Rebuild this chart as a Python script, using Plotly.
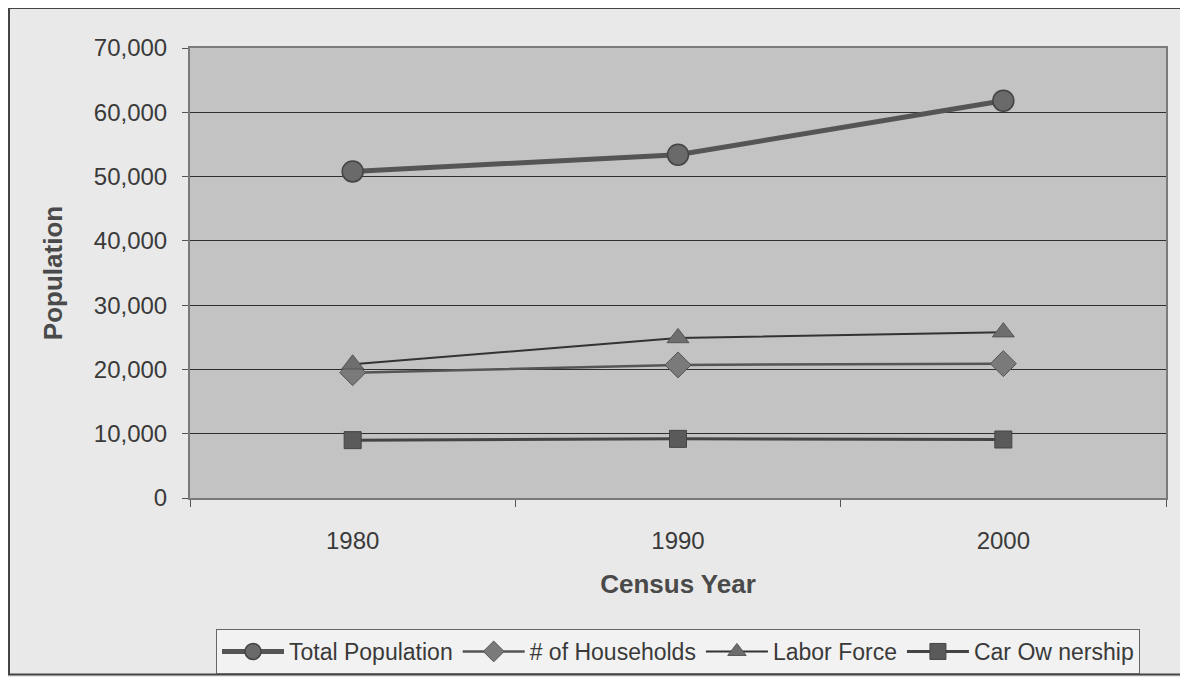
import plotly.graph_objects as go

years = ["1980", "1990", "2000"]
total_population = [50800, 53400, 61800]
households = [19500, 20700, 20900]
labor_force = [20800, 24900, 25800]
car_ownership = [9000, 9200, 9100]
y_ticks = [0, 10000, 20000, 30000, 40000, 50000, 60000, 70000]

FONT = "Arial, Liberation Sans, sans-serif"
TXT = "#3a3a3a"

L, R, T, B = 182, 30, 40, 186
PW = 1188 - L - R
PH = 677 - T - B

fig = go.Figure()
fig.add_trace(go.Scatter(
    x=years, y=total_population, name="Total Population", mode="lines+markers",
    line=dict(color="#555555", width=5),
    marker=dict(symbol="circle", size=21, color="#6a6a6a", line=dict(color="#444444", width=1.5))))
fig.add_trace(go.Scatter(
    x=years, y=households, name="# of Households", mode="lines+markers",
    line=dict(color="#555555", width=2.5),
    marker=dict(symbol="diamond", size=20, color="#7a7a7a", line=dict(color="#555555", width=1))))
fig.add_trace(go.Scatter(
    x=years, y=labor_force, name="Labor Force", mode="lines+markers",
    line=dict(color="#333333", width=2),
    marker=dict(symbol="triangle-up", size=19, color="#6e6e6e", line=dict(color="#555555", width=1))))
fig.add_trace(go.Scatter(
    x=years, y=car_ownership, name="Car Ow nership", mode="lines+markers",
    line=dict(color="#444444", width=3),
    marker=dict(symbol="square", size=17, color="#5a5a5a", line=dict(color="#444444", width=1))))

fig.update_layout(
    width=1188, height=677,
    margin=dict(l=L, r=R, t=T, b=B),
    paper_bgcolor="#e9e9e9",
    plot_bgcolor="#c3c3c3",
    font=dict(family=FONT, size=24, color=TXT),
    showlegend=True,
    legend=dict(
        orientation="h", x=0.5, xanchor="center", y=(491 - 621) / PH, yanchor="top",
        bgcolor="#f2f2f2", bordercolor="#666666", borderwidth=1,
        font=dict(family=FONT, size=23, color=TXT), itemwidth=62,
        tracegroupgap=0,
    ),
    xaxis=dict(
        type="category", tickson="boundaries", ticks="outside", ticklen=7,
        tickcolor="#555555", showgrid=False, showline=True, mirror=True,
        linecolor="#7a7a7a", linewidth=2, range=[-0.5, 2.5],
        tickfont=dict(family=FONT, size=24, color=TXT), ticklabelstandoff=20,
        title=dict(text="<b>Census Year</b>", font=dict(family=FONT, size=26, color="#4a4a4a"), standoff=22),
    ),
    yaxis=dict(
        range=[0, 70000], tickvals=y_ticks, tickformat=",", ticks="outside", ticklen=6,
        tickcolor="#555555", showgrid=True, gridcolor="#2e2e2e", gridwidth=1,
        showline=True, mirror=True, linecolor="#7a7a7a", linewidth=2, zeroline=False,
        tickfont=dict(family=FONT, size=24, color=TXT), ticklabelstandoff=10,
        title=dict(text="<b>Population</b>", font=dict(family=FONT, size=26, color="#4a4a4a"), standoff=24),
    ),
    shapes=[dict(
        type="rect", xref="paper", yref="paper",
        x0=(1 - L) / PW, x1=(1176 - L) / PW,
        y0=(T + PH - 668) / PH, y1=(T + PH - 0) / PH,
        line=dict(color="#444444", width=2), layer="below",
    )],
)

fig.write_html("out.html")
